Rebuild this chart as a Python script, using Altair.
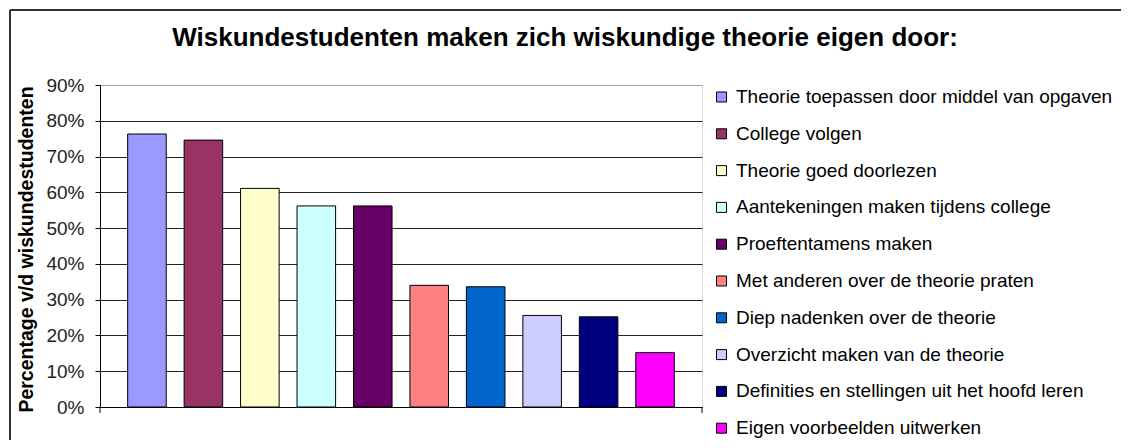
import altair as alt
import pandas as pd

categories = [
    "Theorie toepassen door middel van opgaven",
    "College volgen",
    "Theorie goed doorlezen",
    "Aantekeningen maken tijdens college",
    "Proeftentamens maken",
    "Met anderen over de theorie praten",
    "Diep nadenken over de theorie",
    "Overzicht maken van de theorie",
    "Definities en stellingen uit het hoofd leren",
    "Eigen voorbeelden uitwerken",
]
values = [0.763, 0.746, 0.611, 0.562, 0.562, 0.340, 0.336, 0.256, 0.252, 0.152]
colors = ["#9999FF", "#993366", "#FFFFCC", "#CCFFFF", "#660066",
          "#FF8080", "#0066CC", "#CCCCFF", "#000080", "#FF00FF"]
y_ticks = [0, 0.1, 0.2, 0.3, 0.4, 0.5, 0.6, 0.7, 0.8, 0.9]

title_text = "Wiskundestudenten maken zich wiskundige theorie eigen door:"
y_title = "Percentage v/d wiskundestudenten"

FONT = "Liberation Sans"
W, H = 602, 322

df = pd.DataFrame({"cat": categories, "val": values})

bars = alt.Chart(df).mark_bar(stroke="black", strokeWidth=1).encode(
    x=alt.X("cat:N", sort=categories,
            scale=alt.Scale(paddingInner=0.317, paddingOuter=0.49),
            axis=alt.Axis(title=None, labels=False, ticks=False, domain=True,
                          domainColor="black", domainWidth=1, grid=False)),
    y=alt.Y("val:Q", scale=alt.Scale(domain=[0, 0.9], nice=False),
            axis=alt.Axis(values=y_ticks, format=".0%", title=y_title,
                          titleFont=FONT, titleFontSize=19.5, titleFontWeight="bold",
                          titleColor="black", titleAngle=-90, titleX=-74, titleY=H / 2 + 3,
                          titleAlign="center", titleBaseline="middle",
                          labelFont=FONT, labelFontSize=19, labelColor="#222",
                          labelPadding=11, tickSize=5, tickColor="black",
                          domainColor="black", domainWidth=1,
                          grid=True,
                          gridColor={"condition": {"test": "datum.value >= 0.89", "value": "#a0a0a0"},
                                     "value": "#222"},
                          gridWidth=1)),
    color=alt.Color("cat:N", sort=categories,
                    scale=alt.Scale(domain=categories, range=colors),
                    legend=alt.Legend(title=None, orient="none", legendX=612, legendY=2.5,
                                      symbolType="square", symbolSize=100,
                                      symbolStrokeColor="black", symbolStrokeWidth=1,
                                      labelFont=FONT, labelFontSize=19, labelColor="black",
                                      labelLimit=600, labelOffset=5, rowPadding=16.8,
                                      padding=0)),
)

one = pd.DataFrame({"t": [title_text]})
title = alt.Chart(one).mark_text(font=FONT, fontSize=26, fontWeight="bold", color="black",
                                 align="center", baseline="alphabetic").encode(
    x=alt.value(465), y=alt.value(-39), text="t:N")
frame_top = alt.Chart(one).mark_rule(color="#333", strokeWidth=2).encode(
    x=alt.value(-90), x2=alt.value(1030), y=alt.value(-75))
frame_left = alt.Chart(one).mark_rule(color="#333", strokeWidth=2).encode(
    x=alt.value(-90), y=alt.value(-75), y2=alt.value(360))
tick_l = alt.Chart(one).mark_rule(color="black", strokeWidth=1).encode(
    x=alt.value(0), y=alt.value(H), y2=alt.value(H + 6))
tick_r = alt.Chart(one).mark_rule(color="black", strokeWidth=1).encode(
    x=alt.value(W), y=alt.value(H), y2=alt.value(H + 6))

chart = alt.layer(bars, title, frame_top, frame_left, tick_l, tick_r).properties(
    width=W, height=H,
    autosize=alt.AutoSizeParams(type="none"),
    padding={"left": 92, "top": 77, "right": 419, "bottom": 33},
).configure_view(stroke="#a0a0a0", strokeWidth=1).configure(background="white")

chart.save("out.html", embed_options={"renderer": "svg", "actions": False})
